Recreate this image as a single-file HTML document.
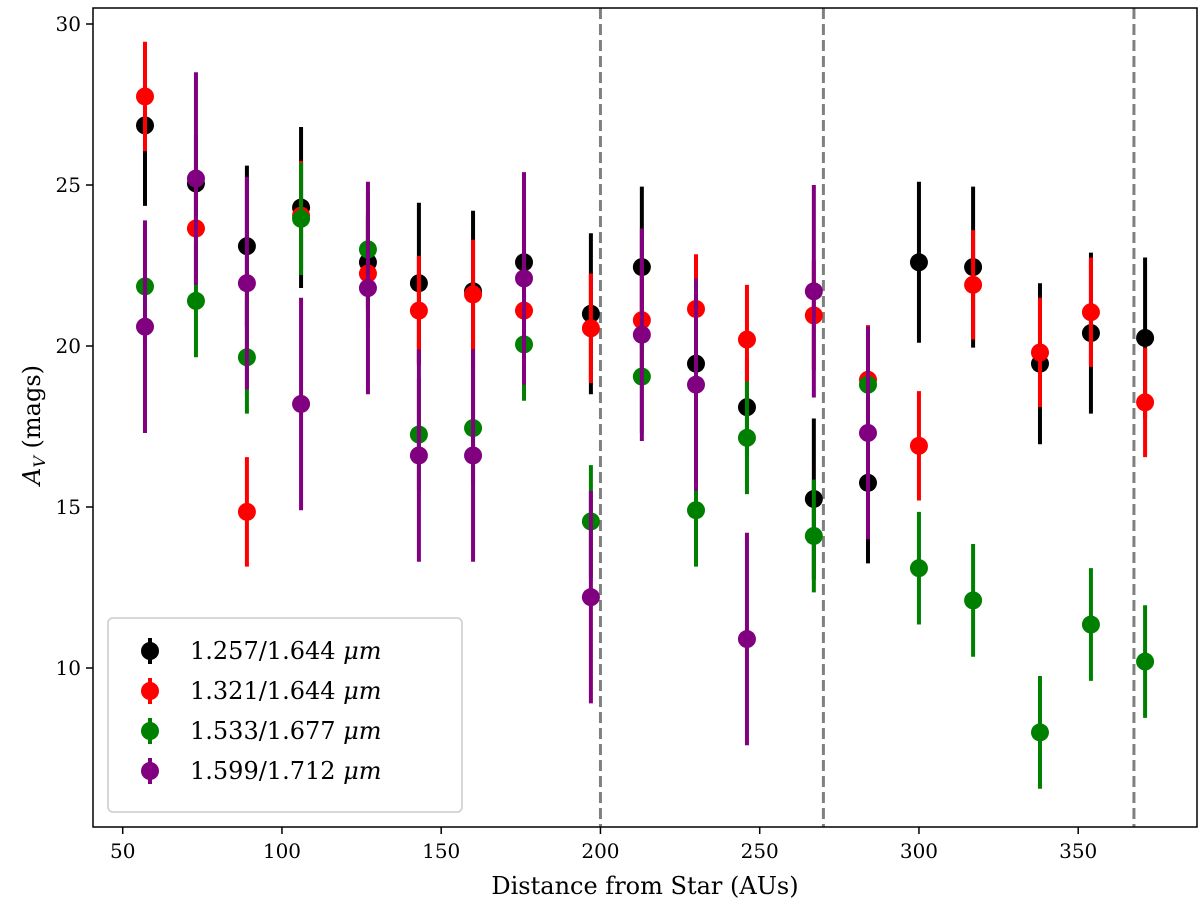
<!DOCTYPE html>
<html><head><meta charset="utf-8">
<style>
html,body{margin:0;padding:0;background:#fff;}
svg{display:block;font-family:"DejaVu Serif","Liberation Serif",serif;}
</style></head>
<body>
<svg id="chart" width="1200" height="908" viewBox="0 0 1200 908">
<g id="marks"></g>
</svg>
<script>
const distances = [57,73,89,106,127,143,160,176,197,213,230,246,267,284,300,317,338,354,371];
const seriesLabels = ["1.257/1.644","1.321/1.644","1.533/1.677","1.599/1.712"];
const blackVals = [26.85,25.05,23.1,24.3,22.6,21.95,21.7,22.6,21.0,22.45,19.45,18.1,15.25,15.75,22.6,22.45,19.45,20.4,20.25];
const blackErr = [2.5,1.5,2.5,2.5,1.5,2.5,2.5,1.5,2.5,2.5,1.5,1.5,2.5,2.5,2.5,2.5,2.5,2.5,2.5];
const redVals = [27.75,23.65,14.85,24.05,22.25,21.1,21.6,21.1,20.55,20.8,21.15,20.2,20.95,18.95,16.9,21.9,19.8,21.05,18.25];
const redErr = [1.7,1.7,1.7,1.7,1.7,1.7,1.7,1.7,1.7,1.7,1.7,1.7,1.7,1.7,1.7,1.7,1.7,1.7,1.7];
const greenVals = [21.85,21.4,19.65,23.95,23.0,17.25,17.45,20.05,14.55,19.05,14.9,17.15,14.1,18.8,13.1,12.1,8.0,11.35,10.2];
const greenErr = [1.75,1.75,1.75,1.75,1.75,1.75,1.75,1.75,1.75,1.75,1.75,1.75,1.75,1.75,1.75,1.75,1.75,1.75,1.75];
const purpleVals = [20.6,25.2,21.95,18.2,21.8,16.6,16.6,22.1,12.2,20.35,18.8,10.9,21.7,17.3];
const purpleErr = [3.3,3.3,3.3,3.3,3.3,3.3,3.3,3.3,3.3,3.3,3.3,3.3,3.3,3.3];
const xTicks = [50,100,150,200,250,300,350];
const yTicks = [10,15,20,25,30];
const dividers = [200,270,367.5];

const NS="http://www.w3.org/2000/svg";
const svg=document.getElementById('chart');
const g=document.getElementById('marks');
const X0=93,X1=1197,Y0=8,Y1=827;
function xs(v){return 122.7+(v-50)*3.185;}
function ys(v){return 24+(30-v)*32.2;}
function mk(tag,attrs,parent){const e=document.createElementNS(NS,tag);for(const k in attrs)e.setAttribute(k,attrs[k]);(parent||g).appendChild(e);return e;}

dividers.forEach(d=>{
  const l=mk('line',{x1:xs(d),x2:xs(d),y1:Y0,y2:Y1,stroke:'#808080','stroke-width':3,'stroke-dasharray':'11,5'});
  
  
});

const series=[
 {vals:blackVals,err:blackErr,color:'#000000',name:'black'},
 {vals:redVals,err:redErr,color:'#ff0000',name:'red'},
 {vals:greenVals,err:greenErr,color:'#008000',name:'green'},
 {vals:purpleVals,err:purpleErr,color:'#800080',name:'purple'}
];
series.forEach(s=>{
  s.vals.forEach((v,i)=>{
    const x=xs(distances[i]);
    const eb=mk('line',{x1:x,x2:x,y1:ys(v-s.err[i]),y2:ys(v+s.err[i]),stroke:s.color,'stroke-width':4});
    
    
    const c=mk('circle',{cx:x,cy:ys(v),r:9,fill:s.color});
    
    
  });
});

const frame=mk('rect',{x:X0,y:Y0,width:X1-X0,height:Y1-Y0,fill:'none',stroke:'#000','stroke-width':1.5});



xTicks.forEach(t=>{
  const x=xs(t);
  mk('line',{x1:x,x2:x,y1:Y1,y2:Y1+7,stroke:'#000','stroke-width':1.5});
  const tx=mk('text',{x:x,y:Y1+31,'text-anchor':'middle','font-size':20});
  tx.textContent=t;
  
  
});
yTicks.forEach(t=>{
  const y=ys(t);
  mk('line',{x1:X0-7,x2:X0,y1:y,y2:y,stroke:'#000','stroke-width':1.5});
  const tx=mk('text',{x:X0-12,y:y+7,'text-anchor':'end','font-size':20});
  tx.textContent=t;
  
  
});

const xl=mk('text',{x:645,y:894,'text-anchor':'middle','font-size':24});
xl.textContent='Distance from Star (AUs)';


const yl=mk('text',{x:0,y:0,'text-anchor':'middle','font-size':24,transform:'translate(40,425) rotate(-90)'});
yl.innerHTML='<tspan font-style="italic">A</tspan><tspan font-style="italic" font-size="16" dy="5">V</tspan><tspan dy="-5"> (mags)</tspan>';



const lg=mk('g',{});


mk('rect',{x:108,y:618,width:354,height:194,rx:5,fill:'#fff','fill-opacity':0.85,stroke:'#ccc','stroke-width':1.5},lg);
series.forEach((s,i)=>{
  const y=651+i*40;
  const e=mk('g',{},lg);
  
  
  mk('line',{x1:150,x2:150,y1:y-13,y2:y+13,stroke:s.color,'stroke-width':4},e);
  mk('circle',{cx:150,cy:y,r:9,fill:s.color},e);
  const t=mk('text',{x:190,y:y+8,'font-size':24},e);
  t.innerHTML=seriesLabels[i]+' <tspan font-style="italic">μm</tspan>';
});
</script>
</body></html>
